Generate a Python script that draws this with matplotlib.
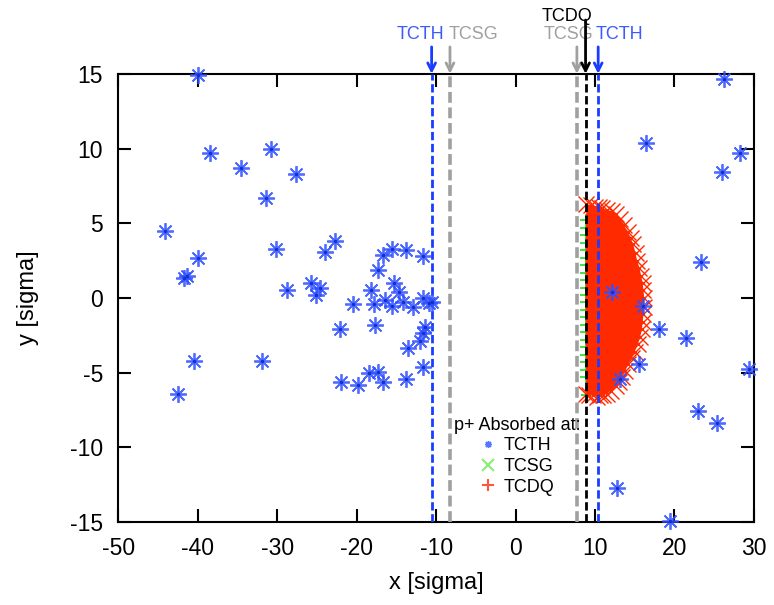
"""Protons absorbed at the tertiary collimators (TCTH), TCSG and TCDQ in
normalised transverse coordinates."""
import matplotlib
matplotlib.use("Agg")
import matplotlib.pyplot as plt
from matplotlib.lines import Line2D

plt.rcParams["font.family"] = ["Liberation Sans", "DejaVu Sans"]
plt.rcParams["axes.unicode_minus"] = False

# protons absorbed at TCTH
tcth_x = [-40.0, -38.5, -34.6, -30.8, -27.6, -31.45, -44.1, -40.0, -41.7, -41.4,
          -30.1, -28.8, -24.0, -22.7, -25.8, -25.1, -24.6, -40.5, -31.95, -42.5,
          -22.1, -20.5, -22.0, -19.8, -18.15, -17.8, -17.7, -17.3, -16.7, -15.6,
          -13.75, -15.3, -14.7, -16.5, -15.5, -14.2, -12.9, -18.4, -17.3, -16.7,
          -13.5, -13.75, -11.7, -11.65, -10.9, -10.5, -11.45, -11.7, -12.0, -11.7,
          26.2, 16.4, 28.3, 26.0, 23.4, 12.2, 16.1, 18.1, 21.4, 15.6,
          13.2, 29.4, 23.0, 25.4, 12.75, 19.5]
tcth_y = [14.9, 9.7, 8.7, 10.0, 8.3, 6.7, 4.5, 2.7, 1.35, 1.5,
          3.3, 0.5, 3.1, 3.8, 1.0, 0.2, 0.65, -4.25, -4.25, -6.4,
          -2.1, -0.4, -5.65, -5.8, 0.55, -0.4, -1.8, 1.9, 2.9, 3.25,
          3.2, 1.0, 0.4, -0.15, -0.55, -0.25, -0.6, -5.05, -4.95, -5.6,
          -3.35, -5.4, 2.8, 0.0, -0.35, -0.3, -1.95, -2.35, -2.9, -4.65,
          14.65, 10.4, 9.7, 8.4, 2.4, 0.4, -0.55, -2.1, -2.7, -4.4,
          -5.45, -4.75, -7.55, -8.4, -12.7, -14.9]

# protons absorbed at TCSG: thin band on the jaw edge
tcsg_x = [8.85, 8.85, 8.85, 8.85, 8.85, 8.85, 8.85, 8.85, 8.85, 8.85, 8.85,
          8.85, 8.85, 8.85, 8.85, 8.85, 8.85, 8.85, 8.85, 8.85, 8.85, 8.85, 9.05]
tcsg_y = [5.2, 4.7, 4.2, 3.7, 3.2, 2.7, 2.2, 1.7, 1.2, 0.7, 0.2, -0.3,
          -0.8, -1.3, -1.8, -2.3, -2.8, -3.3, -3.8, -4.3, -4.8, -5.3, -6.5]

# outline of the dense TCDQ cloud (marker centres along its edge)
tcdq_x = [8.8, 8.9, 9.5, 10.0, 10.5, 10.9, 11.5, 12.1, 12.6, 13.1, 13.6, 14.1, 14.5,
          14.8, 15.1, 15.3, 15.6, 15.8, 16.0, 16.1, 16.2, 16.2, 16.1, 16.0, 15.9,
          15.7, 15.4, 15.0, 14.6, 14.2, 13.8, 13.4, 13.0, 12.6, 12.0, 11.5, 11.0,
          10.6, 10.2, 9.8, 9.3, 8.9, 8.8]
tcdq_y = [0.0, 6.3, 6.2, 6.1, 6.1, 6.0, 5.9, 5.8, 5.6, 5.3, 4.9, 4.4, 4.0,
          3.6, 3.0, 2.5, 2.0, 1.5, 1.0, 0.5, 0.0, -0.6, -1.1, -1.6, -2.1,
          -2.6, -3.1, -3.6, -4.0, -4.4, -4.9, -5.3, -5.6, -5.9, -6.2, -6.4, -6.5,
          -6.5, -6.6, -6.5, -6.5, -6.4, 0.0]

# collimator jaw positions [sigma]
jaws = [("TCTH", -10.57, "#1a3cff", "#3b5bff"), ("TCSG", -8.26, "#a0a0a0", "#a0a0a0"),
        ("TCSG", 7.72, "#a0a0a0", "#a0a0a0"), ("TCDQ", 8.81, "black", "black"),
        ("TCTH", 10.4, "#1a3cff", "#3b5bff")]
label_x = [-11.95, -5.35, 6.67, 6.42, 13.08]
label_y = [17.6, 17.6, 17.6, 18.85, 17.6]
arrow_top = [16.8, 16.8, 16.8, 18.6, 16.8]

fig = plt.figure(figsize=(7.74, 6.05), dpi=100)
ax = fig.add_axes([0.153, 0.137, 0.821, 0.741])

star = (8, 2, 0)
ax.plot(tcsg_x, tcsg_y, "+", color="#22dd22", ms=9, mew=1.2, zorder=2)
ax.fill(tcdq_x, tcdq_y, color="#ff2a00", lw=0, zorder=3)
ax.plot(tcdq_x[1:-1], tcdq_y[1:-1], "x", color="#ff2a00", ms=11, mew=1.0, zorder=3)
ax.plot(tcth_x, tcth_y, ls="none", marker=star, color="#3050ff", ms=12, mew=1.3,
        alpha=0.85, zorder=5, clip_on=False)
ax.plot(tcth_x, tcth_y, ls="none", marker=".", color="#1030d0", ms=3, zorder=5,
        clip_on=False)

for (name, xj, lc, tc), tx, ty, at in zip(jaws, label_x, label_y, arrow_top):
    lw = 2.6 if lc == "#a0a0a0" else 2.0
    ax.axvline(xj, color=lc, lw=lw, ls=(0, (3, 1.3)), zorder=4)
    ax.annotate("", xy=(xj, 15.0), xytext=(xj, at), annotation_clip=False,
                arrowprops=dict(arrowstyle="->", color=lc, lw=2, shrinkA=0, shrinkB=0,
                                mutation_scale=14))
    ax.text(tx, ty, name, color=tc, fontsize=13, ha="center", va="center", clip_on=False)

ax.set_xlim(-50, 30)
ax.set_ylim(-15, 15)
ax.set_xticks(range(-50, 31, 10))
ax.set_yticks(range(-15, 16, 5))
ax.tick_params(direction="in", length=9.5, width=1.5, top=True, right=True,
               labelsize=16.5, pad=11)
for s in ax.spines.values():
    s.set_linewidth(1.5)
ax.set_xlabel("x [sigma]", fontsize=17, labelpad=8)
ax.set_ylabel("y [sigma]", fontsize=17, labelpad=22)

handles = [Line2D([], [], ls="none", marker=star, color="#5577ff", ms=5, mew=1),
           Line2D([], [], ls="none", marker="x", color="#88ee77", ms=8, mew=1.5),
           Line2D([], [], ls="none", marker="+", color="#ff5544", ms=9, mew=1.5)]
ax.legend(handles, ["TCTH", "TCSG", "TCDQ"], title="p+ Absorbed at:", frameon=False,
          fontsize=13, title_fontsize=13, loc="upper center", handlelength=1.0,
          handletextpad=0.4, labelspacing=0.2, borderpad=0.0,
          bbox_to_anchor=(0.627, 0.255))

fig.savefig("out.png", dpi=100)
